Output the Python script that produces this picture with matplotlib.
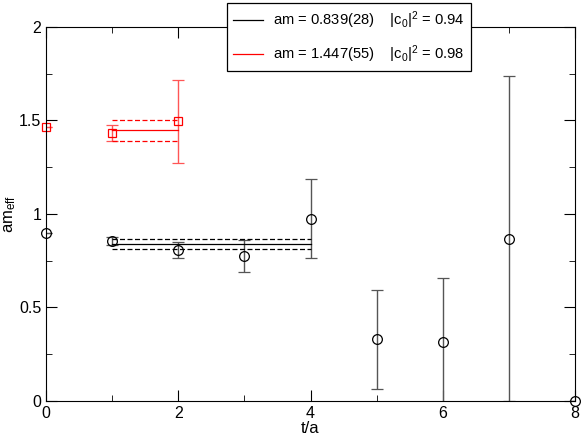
import matplotlib
matplotlib.use("Agg")
from matplotlib import pyplot as plt
from matplotlib.ticker import MultipleLocator

plt.rcParams["font.family"] = ["Liberation Sans", "DejaVu Sans"]
plt.rcParams["mathtext.fontset"] = "custom"
plt.rcParams["mathtext.rm"] = "Liberation Sans"
plt.rcParams["mathtext.it"] = "Liberation Sans"

# black effective mass points
t_black = [0, 1, 2, 3, 4, 5, 6, 7, 8]
am_black = [0.900, 0.855, 0.808, 0.776, 0.975, 0.330, 0.315, 0.868, 0.0]
err_black = [0.0, 0.022, 0.042, 0.085, 0.212, 0.265, 0.343, 0.870, 0.0]

# red effective mass points
t_red = [0, 1, 2]
am_red = [1.466, 1.433, 1.495]
err_red = [0.0, 0.043, 0.222]

# fits: value, error, t range
fit_black = (0.839, 0.028, 1, 4)
fit_red = (1.447, 0.055, 1, 2)
labels = ["am = 0.839(28)    |c$_0$|$^2$ = 0.94",
          "am = 1.447(55)    |c$_0$|$^2$ = 0.98"]

fig = plt.figure(figsize=(5.81, 4.36), dpi=100)
ax = fig.add_axes([0.0792, 0.0803, 0.9105, 0.8578])

eb1 = ax.errorbar(t_black, am_black, yerr=err_black, fmt="o", mfc="none", mec="black",
                  ecolor="#555555", elinewidth=1, capsize=4, ms=7, mew=0.9)
eb2 = ax.errorbar(t_red, am_red, yerr=err_red, fmt="s", mfc="none", mec="red",
                  ecolor="#ff5555", elinewidth=1, capsize=4, ms=6, mew=0.9)
for eb in (eb1, eb2):
    eb.lines[0].set_clip_on(False)

for (m, e, t0, t1), col, lab in [(fit_black, "black", labels[0]),
                                  (fit_red, "red", labels[1])]:
    ax.plot([t0, t1], [m, m], color=col, lw=0.9, label=lab)
    ax.plot([t0, t1], [m + e, m + e], color=col, lw=0.9, ls=(0, (4, 2)))
    ax.plot([t0, t1], [m - e, m - e], color=col, lw=0.9, ls=(0, (4, 2)))

ax.set_xlim(0, 8)
ax.set_ylim(0, 2)
ax.xaxis.set_major_locator(MultipleLocator(2))
ax.xaxis.set_minor_locator(MultipleLocator(1))
ax.yaxis.set_major_locator(MultipleLocator(0.5))
ax.yaxis.set_minor_locator(MultipleLocator(0.25))
ax.tick_params(which="both", direction="in", top=True, right=True, labelsize=11.5)
ax.tick_params(which="major", length=8)
ax.tick_params(which="minor", length=4)
ax.set_yticks([0, 0.5, 1, 1.5, 2])
ax.set_yticklabels(["0", "0.5", "1", "1.5", "2"])
ax.set_xlabel("t/a", fontsize=12, labelpad=0)
ax.set_ylabel("am$_{\\rm eff}$", fontsize=12, labelpad=1)

leg = ax.legend(loc="upper center", bbox_to_anchor=(0.5725, 1.064),
                fontsize=10.6, fancybox=False, framealpha=1,
                edgecolor="black", handlelength=2.0, handletextpad=0.7,
                labelspacing=0.8, borderpad=0.45, borderaxespad=0)
leg.get_frame().set_linewidth(0.9)
leg.set_zorder(10)

fig.savefig("out.png", dpi=100)
